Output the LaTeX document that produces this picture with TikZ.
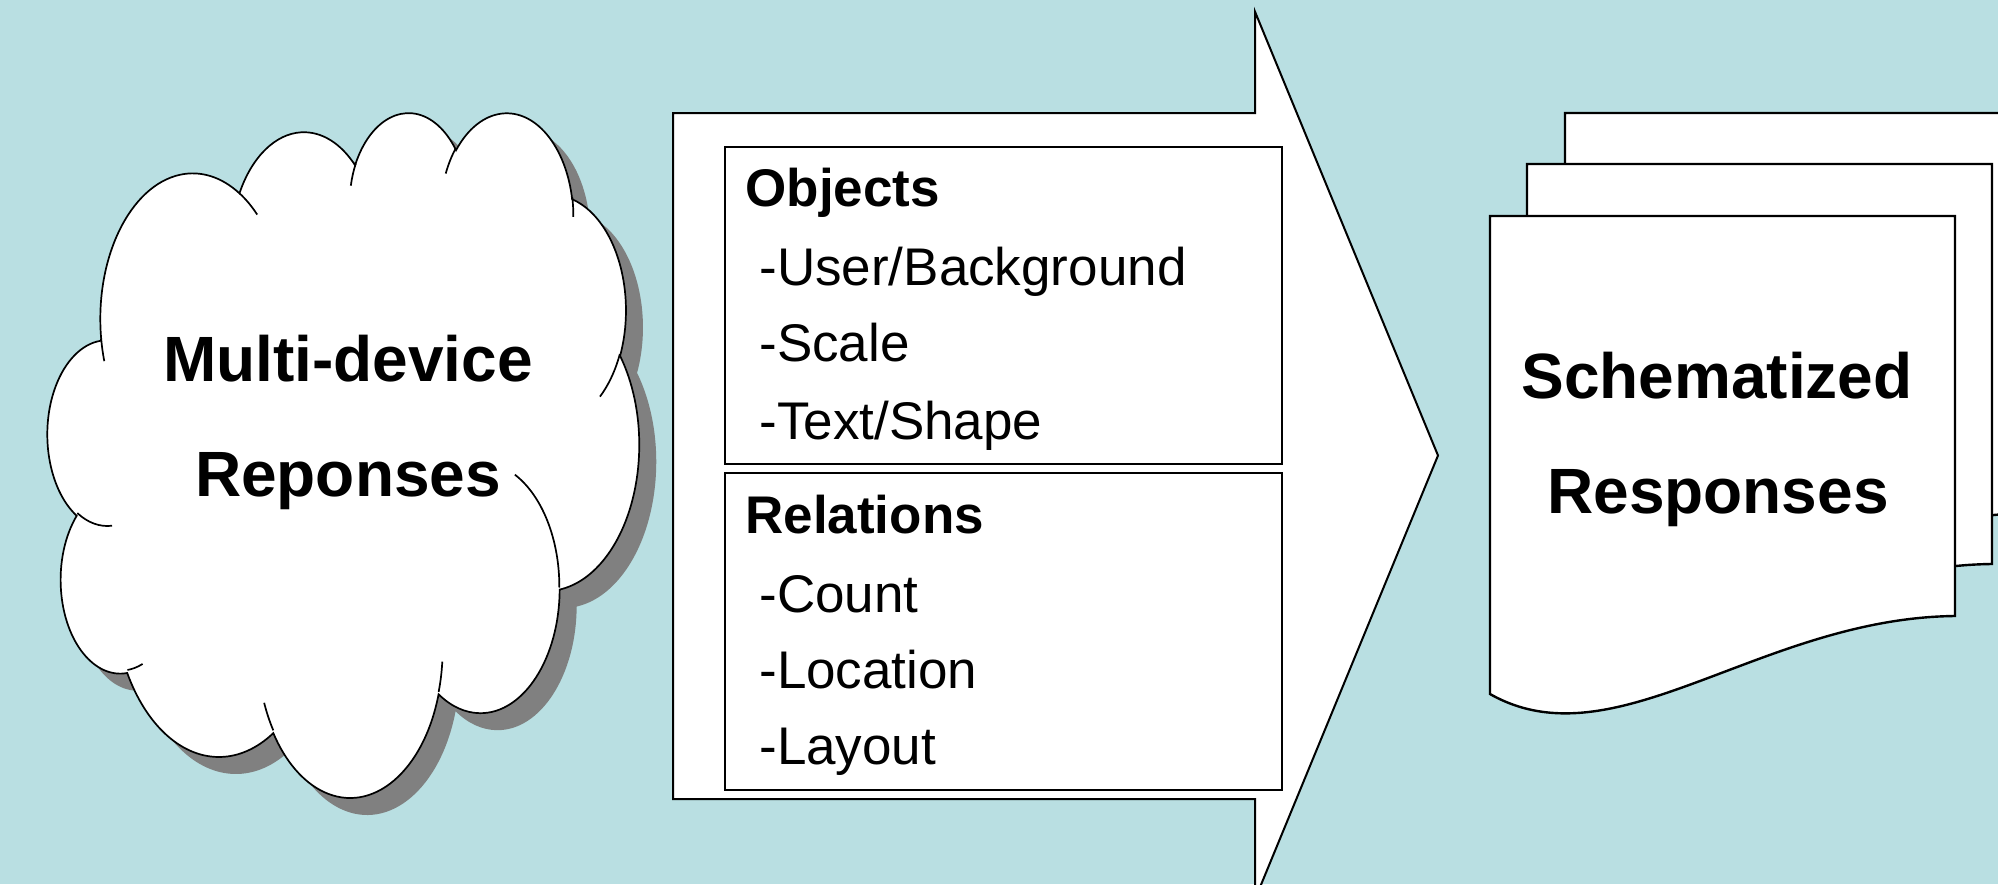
\documentclass[tikz,border=0pt]{standalone}
\usepackage{fontspec}
\setmainfont{Liberation Sans}
\definecolor{bgblue}{RGB}{185,223,226}
\definecolor{shadowgray}{RGB}{128,128,128}
% visual (OOXML) angle -> parametric angle
\newcommand\vpar[4]{%
  \pgfmathsetmacro\vpd{atan2((#2)*sin(#4),(#3)*cos(#4))-(#4)}%
  \pgfmathsetmacro\vpd{\vpd-360*round(\vpd/360)}%
  \pgfmathsetmacro\vpe{(#4)+\vpd}%
  \expandafter\xdef\csname #1\endcsname{\vpe}}
\newcommand\lobe[5]{\vpar{#1s}{#2}{#3}{#4}\vpar{#1e}{#2}{#3}{(#4)+(#5)}}
\lobe{clA}{67.53}{91.90}{-190.48748}{123.78053}
\lobe{clB}{53.33}{72.67}{-144.10238}{89.94523}
\lobe{clC}{43.65}{59.45}{-145.80792}{99.72302}
\lobe{clD}{48.57}{65.95}{-130.98607}{117.24173}
\lobe{clE}{53.33}{72.73}{-78.70888}{109.02692}
\lobe{clF}{67.75}{92.20}{-46.26725}{130.269}
\lobe{clG}{57.85}{78.67}{0.62502}{114.03333}
\lobe{clH}{67.52}{92.15}{22.4516}{115.17255}
\lobe{clI}{77.20}{105.43}{66.24263}{75.71102}
\lobe{clJ}{43.60}{59.18}{-274.94208}{146.73557}
\lobe{clK}{43.45}{59.45}{-246.8285}{152.51885}
% interior strokes
\lobe{sta}{43.45}{59.45}{86.742}{26.4295}
\lobe{stb}{43.60}{59.18}{73.61047}{11.44747}
\lobe{stc}{67.52}{92.15}{137.62415}{14.0811}
\lobe{std}{67.52}{92.15}{6.45327}{15.99835}
\lobe{ste}{57.85}{78.67}{-70.29235}{70.91737}
\lobe{stf}{53.33}{72.73}{30.31803}{27.7515}
\lobe{stg}{48.57}{65.95}{-13.74433}{14.8589}
\lobe{sth}{48.57}{65.95}{-149.18145}{18.19537}
\lobe{sti}{43.65}{59.45}{-163.49427}{17.68635}
\lobe{stj}{67.53}{91.90}{-66.70695}{12.31935}
\lobe{stk}{67.53}{91.90}{157.65}{11.86}
\newcommand\cloudpath{(39.00,143.70)
  arc[start angle=\clAs, end angle=\clAe, x radius=67.53, y radius=91.90]
  arc[start angle=\clBs, end angle=\clBe, x radius=53.33, y radius=72.67]
  arc[start angle=\clCs, end angle=\clCe, x radius=43.65, y radius=59.45]
  arc[start angle=\clDs, end angle=\clDe, x radius=48.57, y radius=65.95]
  arc[start angle=\clEs, end angle=\clEe, x radius=53.33, y radius=72.73]
  arc[start angle=\clFs, end angle=\clFe, x radius=67.75, y radius=92.20]
  arc[start angle=\clGs, end angle=\clGe, x radius=57.85, y radius=78.67]
  arc[start angle=\clHs, end angle=\clHe, x radius=67.52, y radius=92.15]
  arc[start angle=\clIs, end angle=\clIe, x radius=77.20, y radius=105.43]
  arc[start angle=\clJs, end angle=\clJe, x radius=43.60, y radius=59.18]
  arc[start angle=\clKs, end angle=\clKe, x radius=43.45, y radius=59.45]
  -- cycle}
\newcommand\pageshape{(0,0) -- (465,0) -- (465,400) .. controls (270,402) and (125,549) .. (0,478) -- cycle}
\tikzset{
  arrowbody/.style={draw=black, fill=white, line width=1pt, line join=miter},
  listbox/.style={draw=black, line width=1.2pt},
  itemtxt/.style={font=\fontsize{26.5}{32}\selectfont, anchor=base west, inner sep=0pt},
  headtxt/.style={font=\fontsize{26.5}{32}\selectfont\bfseries, anchor=base west, inner sep=0pt},
  bigtxt/.style={font=\fontsize{32}{38}\selectfont\bfseries, anchor=base, inner sep=0pt},
  cloudline/.style={draw=black, line width=0.85pt},
  pagebox/.style={draw=black, fill=white, line width=1.2pt, line join=miter}
}
\begin{document}
\begin{tikzpicture}[x=0.5pt, y=-0.5pt]
\useasboundingbox[fill=bgblue] (0,0) rectangle (1998,884);
\begin{scope}
\clip (0,0) rectangle (1998,884);
% cloud shadow and cloud
\begin{scope}[shift={(64.8,127.9)}, x=0.68425pt, y=-0.79235pt]
  \fill[shadowgray] \cloudpath;
\end{scope}
\begin{scope}[shift={(47.8,110.9)}, x=0.68425pt, y=-0.79235pt]
  \filldraw[cloudline, fill=white] \cloudpath;
  \draw[cloudline]
    (46.93,261.77) arc[start angle=\stas, end angle=\stae, x radius=43.45, y radius=59.45]
    (69.28,348.99) arc[start angle=\stbs, end angle=\stbe, x radius=43.60, y radius=59.18]
    (164.78,390.90) arc[start angle=\stcs, end angle=\stce, x radius=67.52, y radius=92.15]
    (288.27,347.51) arc[start angle=\stds, end angle=\stde, x radius=67.52, y radius=92.15]
    (341.29,229.54) arc[start angle=\stes, end angle=\stee, x radius=57.85, y radius=78.67]
    (417.98,153.54) arc[start angle=\stfs, end angle=\stfe, x radius=53.33, y radius=72.73]
    (383.24,54.26) arc[start angle=\stgs, end angle=\stge, x radius=48.57, y radius=65.95]
    (290.78,39.52) arc[start angle=\sths, end angle=\sthe, x radius=48.57, y radius=65.95]
    (221.41,47.20) arc[start angle=\stis, end angle=\stie, x radius=43.65, y radius=59.45]
    (140.00,51.92) arc[start angle=\stjs, end angle=\stje, x radius=67.53, y radius=91.90]
    (41.27,157.89) arc[start angle=\stks, end angle=\stke, x radius=67.53, y radius=91.90];
\end{scope}
\node[bigtxt] (multi) at (348,381) {Multi-device};
\node[bigtxt] (repo) at (348,496) {Reponses};
% big arrow
\draw[arrowbody] (673,113) -- (1255,113) -- (1255,11.7) -- (1438,455.5)
  -- (1255,899.3) -- (1255,799) -- (673,799) -- cycle;
\draw[listbox] (725,147) rectangle (1282,464);
\draw[listbox] (725,473) rectangle (1282,790);
\node[headtxt] (obj) at (745,206) {Objects};
\node[itemtxt] (o1) at (759,285) {-User/Background};
\node[itemtxt] (o2) at (759,361) {-Scale};
\node[itemtxt] (o3) at (759,439) {-Text/Shape};
\node[headtxt] (rel) at (745,533) {Relations};
\node[itemtxt] (r1) at (759,612) {-Count};
\node[itemtxt] (r2) at (759,688) {-Location};
\node[itemtxt] (r3) at (759,764) {-Layout};
% stacked documents
\begin{scope}[shift={(1565,113)}] \draw[pagebox] \pageshape; \end{scope}
\begin{scope}[shift={(1527,164)}] \draw[pagebox] \pageshape; \end{scope}
\begin{scope}[shift={(1490,216)}] \draw[pagebox] \pageshape; \end{scope}
\node[bigtxt] (sch) at (1717,398) {Schematized};
\node[bigtxt] (resp) at (1718,513) {Responses};
\end{scope}
\end{tikzpicture}
\end{document}
